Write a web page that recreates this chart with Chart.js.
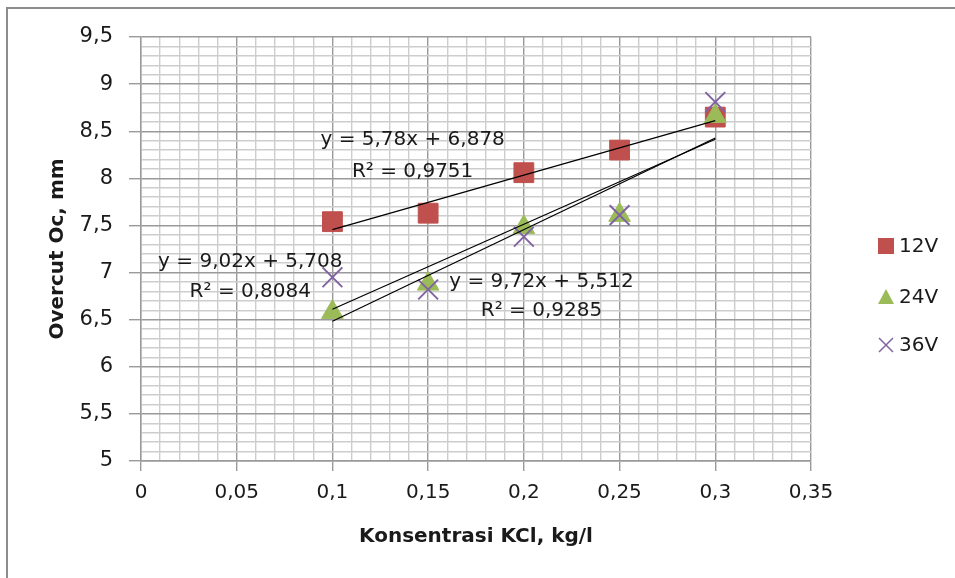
<!DOCTYPE html>
<html lang="id">
<head>
<meta charset="UTF-8">
<title>Overcut vs Konsentrasi KCl</title>
<script src="https://cdn.jsdelivr.net/npm/chart.js@4"></script>
<style>
  html, body { margin: 0; padding: 0; background: #fff; overflow: hidden; }
  .frame {
    position: absolute; left: 6px; top: 7px; width: 1000px; height: 1000px;
    border-top: 2px solid #8c8c8c; border-left: 2px solid #8c8c8c;
  }
  canvas { position: absolute; left: 0; top: 0; }
</style>
</head>
<body>
<div class="frame"></div>
<canvas id="chart" width="955" height="578"></canvas>
<script>
  // data
  const konsentrasi = [0.1, 0.15, 0.2, 0.25, 0.3];
  const overcut12V = [7.54, 7.63, 8.06, 8.30, 8.65];
  const overcut24V = [6.58, 6.88, 7.48, 7.61, 8.66];
  const overcut36V = [6.95, 6.82, 7.38, 7.61, 8.81];

  // linear trendlines, ends at x = 0.1 and x = 0.3
  const trendX = [0.1, 0.3];
  const trend12V = [7.456, 8.612];
  const trend24V = [6.484, 8.428];
  const trend36V = [6.610, 8.414];

  const eqLabels = ['y = 5,78x + 6,878', 'y = 9,72x + 5,512', 'y = 9,02x + 5,708'];
  const r2Labels = ['R² = 0,9751', 'R² = 0,9285', 'R² = 0,8084'];
  // label centres in data units (x, y of eq line, y of R² line)
  const labelPos = [
    [0.1419, 8.408, 8.068],
    [0.2092, 6.900, 6.592],
    [0.0571, 7.113, 6.794]
  ];

  const seriesNames = ['12V', '24V', '36V'];

  const RED = '#C0504D', GREEN = '#9BBB59', PURPLE = '#8064A2';
  const MAJOR = '#9a9a9a', MINOR = '#cdcdcd';
  const FONT = "'DejaVu Sans', sans-serif";

  const pts = (xs, ys) => xs.map((x, i) => ({ x: x, y: ys[i] }));

  const isMul = (v, step) => Math.abs(v / step - Math.round(v / step)) < 1e-6;
  const fmt = v => String(+v.toFixed(2)).replace('.', ',');

  // trendline equation texts
  const labelPlugin = {
    id: 'trendLabels',
    afterDatasetsDraw(chart) {
      const { ctx, scales: { x, y } } = chart;
      ctx.save();
      ctx.font = '20px ' + FONT;
      ctx.fillStyle = '#1a1a1a';
      ctx.textAlign = 'center';
      ctx.textBaseline = 'middle';
      labelPos.forEach((p, i) => {
        const px = x.getPixelForValue(p[0]);
        ctx.fillText(eqLabels[i], px, y.getPixelForValue(p[1]));
        ctx.fillText(r2Labels[i], px, y.getPixelForValue(p[2]));
      });
      ctx.restore();
    }
  };

  // legend on the right
  const legendPlugin = {
    id: 'sideLegend',
    afterDraw(chart) {
      const ctx = chart.ctx;
      const cx = 886, tops = [246, 297, 345];
      ctx.save();
      ctx.font = '20px ' + FONT;
      ctx.textBaseline = 'middle';
      ctx.textAlign = 'left';
      tops.forEach((cy, i) => {
        if (i === 0) {
          ctx.fillStyle = RED;
          ctx.fillRect(cx - 8, cy - 8, 16, 16);
        } else if (i === 1) {
          ctx.fillStyle = GREEN;
          ctx.beginPath();
          ctx.moveTo(cx, cy - 8);
          ctx.lineTo(cx + 8, cy + 7);
          ctx.lineTo(cx - 8, cy + 7);
          ctx.closePath();
          ctx.fill();
        } else {
          ctx.strokeStyle = PURPLE;
          ctx.lineWidth = 1.5;
          ctx.beginPath();
          ctx.moveTo(cx - 7, cy - 7); ctx.lineTo(cx + 7, cy + 7);
          ctx.moveTo(cx + 7, cy - 7); ctx.lineTo(cx - 7, cy + 7);
          ctx.stroke();
        }
        ctx.fillStyle = '#1a1a1a';
        ctx.fillText(seriesNames[i], 899, cy + 1);
      });
      ctx.restore();
    }
  };

  const trendStyle = {
    type: 'line',
    showLine: true,
    borderColor: '#000',
    borderWidth: 1.2,
    pointRadius: 0,
    fill: false,
    order: 0
  };

  new Chart(document.getElementById('chart'), {
    type: 'scatter',
    data: {
      datasets: [
        {
          label: seriesNames[0],
          data: pts(konsentrasi, overcut12V),
          pointStyle: 'rect',
          pointRadius: 14,
          backgroundColor: RED,
          borderColor: RED,
          borderWidth: 1,
          order: 3
        },
        {
          label: seriesNames[1],
          data: pts(konsentrasi, overcut24V),
          pointStyle: 'triangle',
          pointRadius: 12.5,
          backgroundColor: GREEN,
          borderColor: GREEN,
          borderWidth: 1,
          order: 2
        },
        {
          label: seriesNames[2],
          data: pts(konsentrasi, overcut36V),
          pointStyle: 'crossRot',
          pointRadius: 14,
          borderColor: PURPLE,
          borderWidth: 2,
          order: 1
        },
        Object.assign({ label: 'trend 12V', data: pts(trendX, trend12V) }, trendStyle),
        Object.assign({ label: 'trend 24V', data: pts(trendX, trend24V) }, trendStyle),
        Object.assign({ label: 'trend 36V', data: pts(trendX, trend36V) }, trendStyle)
      ]
    },
    options: {
      responsive: false,
      animation: false,
      layout: { padding: { top: 37, right: 144, bottom: 0, left: 0 } },
      plugins: {
        legend: { display: false },
        tooltip: { enabled: false }
      },
      scales: {
        x: {
          type: 'linear',
          min: 0,
          max: 0.35,
          afterFit(scale) { scale.height = 117; },
          border: { color: MAJOR, width: 1.4 },
          grid: {
            color: c => c.tick && isMul(c.tick.value, 0.05) ? MAJOR : MINOR,
            tickColor: c => c.tick && isMul(c.tick.value, 0.05) ? MAJOR : 'rgba(0,0,0,0)',
            tickLength: 10,
            lineWidth: 1.4
          },
          ticks: {
            stepSize: 0.01,
            autoSkip: false,
            maxRotation: 0,
            padding: 10,
            color: '#1a1a1a',
            font: { family: FONT, size: 20 },
            callback: v => isMul(v, 0.05) ? fmt(v) : ''
          },
          title: {
            display: true,
            text: 'Konsentrasi KCl, kg/l',
            color: '#1a1a1a',
            font: { family: FONT, size: 20, weight: 'bold' },
            padding: { top: 0, bottom: 29 }
          }
        },
        y: {
          min: 5,
          max: 9.5,
          afterFit(scale) { scale.width = 141; },
          border: { color: MAJOR, width: 1.4 },
          grid: {
            color: c => c.tick && isMul(c.tick.value, 0.5) ? MAJOR : MINOR,
            tickColor: c => c.tick && isMul(c.tick.value, 0.5) ? MAJOR : 'rgba(0,0,0,0)',
            tickLength: 12,
            lineWidth: 1.4
          },
          ticks: {
            stepSize: 0.1,
            autoSkip: false,
            padding: 16,
            color: '#1a1a1a',
            font: { family: FONT, size: 21 },
            callback: v => isMul(v, 0.5) ? fmt(v) : ''
          },
          title: {
            display: true,
            text: 'Overcut Oc, mm',
            color: '#1a1a1a',
            font: { family: FONT, size: 20, weight: 'bold' },
            padding: { top: 46, bottom: 0 }
          }
        }
      }
    },
    plugins: [labelPlugin, legendPlugin]
  });
</script>
</body>
</html>
